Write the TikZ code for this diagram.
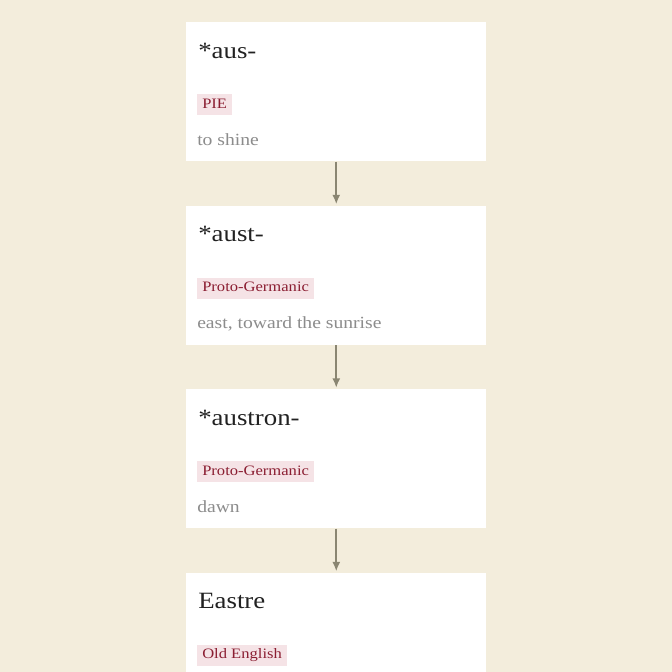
\documentclass[tikz,border=0pt]{standalone}
\usepackage{fontspec}
\setmainfont[FakeStretch=1.15]{Liberation Serif}
\usetikzlibrary{arrows.meta,positioning}

\definecolor{paper}{HTML}{F3EDDC}
\definecolor{tagpink}{HTML}{F5E3E6}
\definecolor{tagred}{HTML}{8B1E32}
\definecolor{glossgrey}{HTML}{8C8C8C}
\definecolor{inkdark}{HTML}{222222}
\definecolor{arrowgrey}{HTML}{8A8672}

\begin{document}
\begin{tikzpicture}[x=0.75pt,y=-0.75pt,>={Latex[length=7pt,width=6pt]},shorten >=1pt,node distance=33pt,
		word box/.style={rectangle,fill=white,minimum width=225pt,minimum height=104.25pt,inner sep=0pt},
		word/.style={anchor=base west,inner sep=0pt,text=inkdark,font=\fontsize{17.5}{20}\selectfont},
		lang tag/.style={anchor=north west,fill=tagpink,text=tagred,inner xsep=3.75pt,inner ysep=0pt,
			minimum height=15.75pt,text height=7.6pt,text depth=2.4pt,font=\fontsize{10.8}{12}\selectfont},
		gloss/.style={anchor=base west,inner sep=0pt,text=glossgrey,font=\fontsize{12.8}{14}\selectfont},
		flow/.style={->,draw=arrowgrey,line width=1.3pt}]

	\useasboundingbox (0,0) rectangle (672,672);
	\fill[paper] (0,0) rectangle (672,672);

	\node[word box,anchor=north west] (b1) at (186,22) {};
	\node[word box] (b2) [below=of b1] {};
	\node[word box] (b3) [below=of b2] {};
	\node[word box] (b4) [below=of b3] {};

	\node[word] (w1) at ([shift={(12,36)}]b1.north west) {*aus-};
	\node[lang tag] (l1) at ([shift={(11,72)}]b1.north west) {PIE};
	\node[gloss] (g1) at ([shift={(11,123)}]b1.north west) {to shine};

	\node[word] (w2) at ([shift={(12,36)}]b2.north west) {*aust-};
	\node[lang tag] (l2) at ([shift={(11,72)}]b2.north west) {Proto-Germanic};
	\node[gloss] (g2) at ([shift={(11,123)}]b2.north west) {east, toward the sunrise};

	\node[word] (w3) at ([shift={(12,36)}]b3.north west) {*austron-};
	\node[lang tag] (l3) at ([shift={(11,72)}]b3.north west) {Proto-Germanic};
	\node[gloss] (g3) at ([shift={(11,123)}]b3.north west) {dawn};

	\node[word] (w4) at ([shift={(12,36)}]b4.north west) {Eastre};
	\node[lang tag] (l4) at ([shift={(11,72)}]b4.north west) {Old English};

	\draw[flow] (b1) -- (b2);
	\draw[flow] (b2) -- (b3);
	\draw[flow] (b3) -- (b4);

\end{tikzpicture}
\end{document}
